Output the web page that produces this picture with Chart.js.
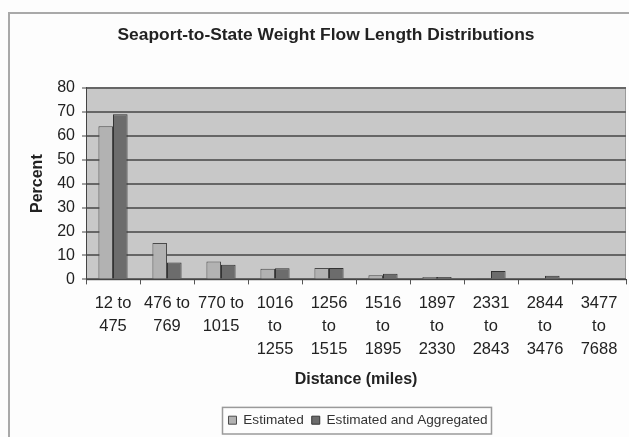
<!DOCTYPE html>
<html>
<head>
<meta charset="utf-8">
<script src="https://cdn.jsdelivr.net/npm/chart.js@4/dist/chart.umd.min.js"></script>
<style>
  html, body { margin: 0; padding: 0; background: #fdfdfd; }
  #wrap { position: relative; width: 629px; height: 437px; overflow: hidden; }
  #frame { position: absolute; left: 8px; top: 12px; width: 700px; height: 500px; border: 2px solid #a9a9a9; box-sizing: border-box; }
  canvas { position: absolute; left: 0; top: 0; }
</style>
</head>
<body>
<div id="wrap">
  <div id="frame"></div>
  <canvas id="c" width="629" height="437"></canvas>
</div>
<script>
const categories = [
  ["12 to", "475"],
  ["476 to", "769"],
  ["770 to", "1015"],
  ["1016", "to", "1255"],
  ["1256", "to", "1515"],
  ["1516", "to", "1895"],
  ["1897", "to", "2330"],
  ["2331", "to", "2843"],
  ["2844", "to", "3476"],
  ["3477", "to", "7688"]
];
const estimated = [64, 15.2, 7.5, 4.4, 4.8, 1.7, 1.0, 0.3, 0, 0];
const estimatedAggregated = [69, 7.1, 6.1, 4.7, 4.8, 2.4, 1.0, 3.5, 1.5, 0];
const yTicks = [0, 10, 20, 30, 40, 50, 60, 70, 80];

const FONT = "'Liberation Sans', Arial, sans-serif";
const TXT = '#222222';

const plotBg = {
  id: 'plotBg',
  beforeDraw(chart) {
    const a = chart.chartArea, ctx = chart.ctx;
    ctx.save();
    ctx.fillStyle = '#c8c8c8';
    ctx.fillRect(a.left, a.top, a.right - a.left, a.bottom - a.top);
    ctx.strokeStyle = '#9a9a9a';
    ctx.lineWidth = 1;
    ctx.strokeRect(a.left + 0.5, a.top + 0.5, a.right - a.left - 1, a.bottom - a.top);
    ctx.restore();
  }
};
const legendShift = {
  id: 'legendShift',
  afterLayout(chart) {
    const lg = chart.legend;
    const a = chart.chartArea;
    const target = (a.left + a.right) / 2 + 2;
    const cur = (lg.left + lg.right) / 2;
    const d = target - cur;
    lg.left += d; lg.right += d;
  }
};
const legendBox = {
  id: 'legendBox',
  afterDraw(chart) {
    const boxes = chart.legend.legendHitBoxes;
    if (!boxes || !boxes.length) return;
    let minX = Infinity, maxX = -Infinity, minY = Infinity, maxY = -Infinity;
    boxes.forEach(b => { minX = Math.min(minX, b.left); maxX = Math.max(maxX, b.left + b.width); minY = Math.min(minY, b.top); maxY = Math.max(maxY, b.top + b.height); });
    const ctx = chart.ctx;
    ctx.save();
    ctx.strokeStyle = '#9a9a9a';
    ctx.lineWidth = 1.5;
    ctx.strokeRect(minX - 6, minY - 6, (maxX - minX) + 10, (maxY - minY) + 13);
    ctx.restore();
  }
};

new Chart(document.getElementById('c'), {
  type: 'bar',
  data: {
    labels: categories,
    datasets: [
      { label: 'Estimated', data: estimated, backgroundColor: '#b2b2b2', borderColor: '#4a4a4a', borderWidth: 1 },
      { label: 'Estimated and Aggregated', data: estimatedAggregated, backgroundColor: '#6c6c6c', borderColor: '#333333', borderWidth: 1 }
    ]
  },
  options: {
    responsive: false,
    animation: false,
    devicePixelRatio: 1,
    layout: { padding: { left: 26, right: 3, top: 0, bottom: 0 } },
    datasets: { bar: { categoryPercentage: 0.54, barPercentage: 1 } },
    plugins: {
      title: {
        display: true,
        text: 'Seaport-to-State Weight Flow Length Distributions',
        color: TXT,
        font: { family: FONT, size: 17.4, weight: 'bold', lineHeight: 1.2 },
        padding: { top: 25, bottom: 42 }
      },
      legend: {
        position: 'bottom',
        labels: {
          color: '#333',
          font: { family: FONT, size: 13.6 },
          boxWidth: 8, boxHeight: 8, padding: 8
        }
      },
      tooltip: { enabled: false }
    },
    scales: {
      x: {
        afterFit(s) { s.height = 126; },
        grid: { display: true, drawOnChartArea: false, drawTicks: true, tickLength: 5, color: '#555', offset: true },
        border: { display: true, color: '#444', width: 1 },
        ticks: { color: TXT, font: { family: FONT, size: 16.5, lineHeight: 1.38 }, maxRotation: 0, autoSkip: false, padding: 8 },
        title: { display: true, text: 'Distance (miles)', color: TXT, font: { family: FONT, size: 16, weight: 'bold', lineHeight: 1.2 }, padding: { top: 4, bottom: 16 } }
      },
      y: {
        min: 0, max: 80,
        afterFit(s) { s.width = 60; },
        afterBuildTicks(s) { s.ticks = yTicks.map(v => ({ value: v })); },
        grid: { color: '#666666', lineWidth: 2, drawTicks: true, tickLength: 4, tickColor: '#444', tickWidth: 1 },
        border: { display: true, color: '#444', width: 1 },
        ticks: { color: TXT, font: { family: FONT, size: 16 }, padding: 7 },
        title: { display: true, text: 'Percent', color: TXT, font: { family: FONT, size: 16, weight: 'bold', lineHeight: 1.2 }, padding: { top: 2, bottom: 0 } }
      }
    }
  },
  plugins: [plotBg, legendShift, legendBox]
});
</script>
</body>
</html>
